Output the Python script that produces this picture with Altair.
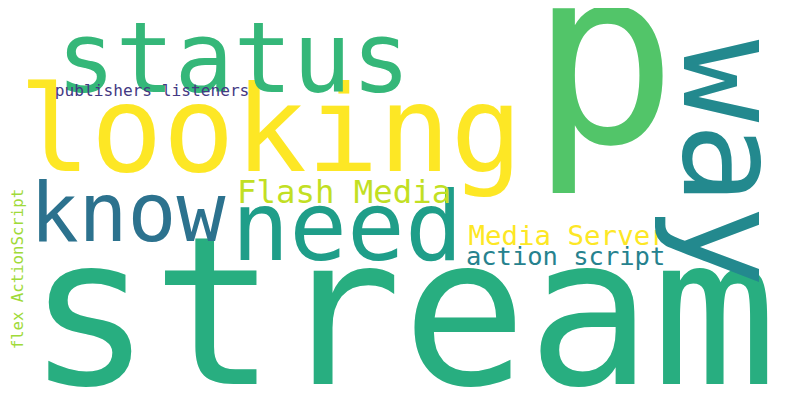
import altair as alt
import pandas as pd

# word cloud: words, their weights (font size), layout spot and colour
words = ["stream", "p", "looking", "status", "know", "need", "way",
         "Flash Media", "Media Server", "action script",
         "publishers listeners", "flex ActionScript"]
sizes = [212, 250, 122, 100, 83, 98, 140, 33, 28, 26, 16.5, 16]
cx = [402, 608, 268, 230, 122, 346, 732, 343, 571, 569, 147, 10]
cy = [392, 140, 170, 88, 243, 263, 162, 203, 247, 268, 92, 272]
angles = [0, 0, 0, 0, 0, 0, 90, 0, 0, 0, 0, 270]
colors = ["#28ae80", "#52c569", "#fde725", "#35b779", "#2c728e", "#1f9e89",
          "#23898e", "#c2df23", "#fde725", "#26828e", "#443983", "#a0da39"]

S = 0.98  # 800px layout drawn inside the 784px plot area
df = pd.DataFrame({
    "word": words,
    "size": [s * S for s in sizes],
    "x": cx, "y": cy,
    "angle": angles,
    "color": colors,
    "baseline": ["alphabetic"] * 6 + ["middle"] + ["alphabetic"] * 4 + ["middle"],
})

base = alt.Chart(df)
layers = []
for bl in ["alphabetic", "middle"]:
    layers.append(
        base.transform_filter(alt.datum.baseline == bl)
        .mark_text(font="DejaVu Sans Mono", align="center", baseline=bl)
        .encode(
            x=alt.X("x:Q", scale=alt.Scale(domain=[0, 800]), axis=None),
            y=alt.Y("y:Q", scale=alt.Scale(domain=[400, 0]), axis=None),
            text="word:N",
            size=alt.Size("size:Q", scale=None, legend=None),
            angle=alt.Angle("angle:Q", scale=None),
            color=alt.Color("color:N", scale=None, legend=None),
        )
    )

# text bounds would otherwise grow the chart and push everything down
chart = alt.layer(*layers).properties(
    width=784, height=384, padding=0, background="white",
    autosize=alt.AutoSizeParams(type="none"),
).configure_view(stroke=None)

chart.save("out.html", embed_options={"renderer": "svg", "actions": False})
